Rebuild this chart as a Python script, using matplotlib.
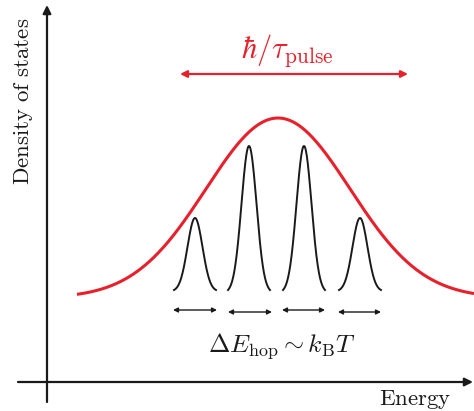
import numpy as np
import matplotlib
matplotlib.use("Agg")
import matplotlib.pyplot as plt

plt.rcParams['mathtext.fontset'] = 'cm'
plt.rcParams['font.family'] = 'serif'
plt.rcParams['font.serif'] = ['DejaVu Serif']

RED = '#e6212b'
DARK = '#1a1a1a'

# broad density of states (red), schematic units = pixels from bottom
dos_center = 278
dos_sigma = 72
dos_base = 113
dos_amp = 180
dos_range = (77, 474)

# narrow hopping-site peaks (black)
site_centers = [195, 249, 304, 360]
site_heights = [72, 144, 144, 72]
site_base = 121
site_halfwidth = 21
site_sigma = 7.5

# double arrows under each peak: (left, right, y)
hop_left = [173, 228, 282, 338]
hop_right = [217, 272, 325, 381]
hop_y = [101, 99, 101, 99]

fig = plt.figure(figsize=(4.74, 4.11), dpi=100)
ax = fig.add_axes([0, 0, 1, 1])
ax.set_xlim(0, 474)
ax.set_ylim(0, 411)
ax.axis('off')

# coordinate axes with arrowheads
ax.annotate('', xy=(47, 406), xytext=(47, 9),
            arrowprops=dict(arrowstyle='-|>', color=DARK, lw=1.6,
                            mutation_scale=12, shrinkA=0, shrinkB=0))
ax.annotate('', xy=(473, 29), xytext=(18, 29),
            arrowprops=dict(arrowstyle='-|>', color=DARK, lw=1.6,
                            mutation_scale=12, shrinkA=0, shrinkB=0))

# red DOS curve
x = np.linspace(dos_range[0], dos_range[1], 400)
y = dos_base + dos_amp * np.exp(-(x - dos_center) ** 2 / (2 * dos_sigma ** 2))
ax.plot(x, y, color=RED, lw=2.2, solid_capstyle='butt')

# black site peaks
for c, h in zip(site_centers, site_heights):
    xs = np.linspace(c - site_halfwidth, c + site_halfwidth, 200)
    g = np.exp(-(xs - c) ** 2 / (2 * site_sigma ** 2))
    g = (g - g.min()) / (g.max() - g.min())
    ax.plot(xs, site_base + h * g, color=DARK, lw=1.4)

# hopping-energy double arrows
for l, r, yy in zip(hop_left, hop_right, hop_y):
    ax.annotate('', xy=(r, yy), xytext=(l, yy),
                arrowprops=dict(arrowstyle='<|-|>', color=DARK, lw=1.0,
                                mutation_scale=7, shrinkA=0, shrinkB=0))

# pulse bandwidth arrow
ax.annotate('', xy=(408, 337), xytext=(180, 337),
            arrowprops=dict(arrowstyle='<|-|>', color=RED, lw=1.6,
                            mutation_scale=10, shrinkA=0, shrinkB=0))

ax.text(287, 360, r'$\hbar/\tau_{\mathrm{pulse}}$', color=RED, fontsize=22,
        ha='center', va='center')
ax.text(282, 65, r'$\Delta E_{\mathrm{hop}} \sim k_{\mathrm{B}}T$', color=DARK,
        fontsize=18.5, ha='center', va='center')
ax.text(24, 310, r'$\mathrm{Density\ of\ states}$', color=DARK, fontsize=16.5,
        rotation=90, ha='center', va='center')
ax.text(415, 12, r'$\mathrm{Energy}$', color=DARK, fontsize=16.5,
        ha='center', va='center')

fig.savefig('out.png', dpi=100)
